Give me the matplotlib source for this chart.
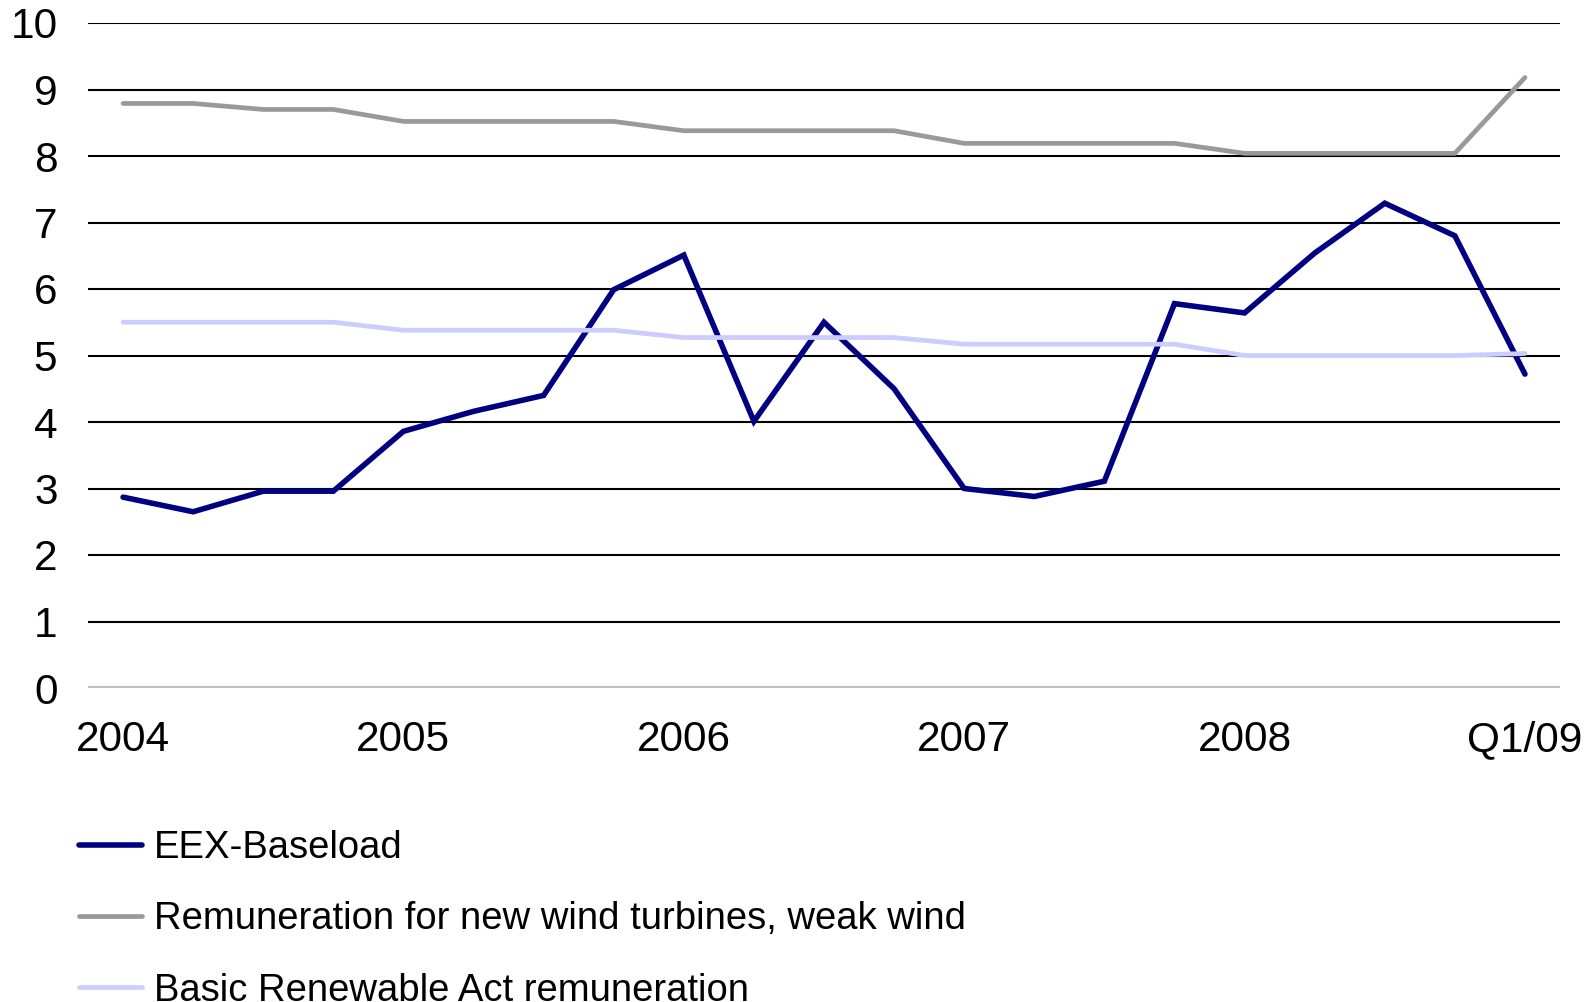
import matplotlib.pyplot as plt
import numpy as np

plt.rcParams['font.family'] = ['Liberation Sans', 'DejaVu Sans']

# quarterly values, Q1/2004 .. Q1/2009 (ct/kWh)
quarters = np.arange(21)
eex_baseload = [2.87, 2.65, 2.96, 2.96, 3.86, 4.16, 4.40, 5.99,
                6.51, 4.01, 5.50, 4.50, 3.00, 2.88, 3.11, 5.78,
                5.64, 6.54, 7.29, 6.80, 4.72]
wind_weak = [8.79, 8.79, 8.70, 8.70, 8.52, 8.52, 8.52, 8.52,
             8.38, 8.38, 8.38, 8.38, 8.19, 8.19, 8.19, 8.19,
             8.04, 8.04, 8.04, 8.04, 9.18]
renewable_basic = [5.50, 5.50, 5.50, 5.50, 5.38, 5.38, 5.38, 5.38,
                   5.27, 5.27, 5.27, 5.27, 5.17, 5.17, 5.17, 5.17,
                   5.00, 5.00, 5.00, 5.00, 5.03]
labels = ['EEX-Baseload', 'Remuneration for new wind turbines, weak wind',
          'Basic Renewable Act remuneration']
tick_pos = [0, 4, 8, 12, 16, 20]
tick_labels = ['2004', '2005', '2006', '2007', '2008', 'Q1/09']

fig = plt.figure(figsize=(15.88, 10.02), dpi=100)
ax = fig.add_axes([88 / 1588, 1 - 688 / 1002, (1560 - 88) / 1588, (688 - 23) / 1002])

# horizontal grid drawn by hand: black lines, light grey base line
for v in range(1, 11):
    ax.axhline(v, color='black', lw=1.5, zorder=1)
ax.axhline(0, color='#c0c0c0', lw=3, zorder=1)

l1, = ax.plot(quarters, eex_baseload, color='#000080', lw=4.0, zorder=3,
              solid_joinstyle='miter', solid_capstyle='round')
l2, = ax.plot(quarters, wind_weak, color='#999999', lw=3.4, zorder=3,
              solid_capstyle='round')
l3, = ax.plot(quarters, renewable_basic, color='#ccccff', lw=3.4, zorder=3,
              solid_capstyle='round')

ax.set_xlim(-0.5, 20.5)
ax.set_ylim(0, 10)
ax.set_yticks(range(0, 11))
ax.set_xticks(tick_pos)
ax.set_xticklabels(tick_labels)
ax.tick_params(axis='both', length=0, labelsize=30.5)
ax.tick_params(axis='x', pad=23)
ax.tick_params(axis='y', pad=22)
for s in ax.spines.values():
    s.set_visible(False)

fig.legend([l1, l2, l3], labels, loc='upper left', bbox_to_anchor=(64 / 1588, 1 - 815 / 1002),
           frameon=False, fontsize=27.5, handlelength=1.65, handletextpad=0.3,
           labelspacing=0.92, borderaxespad=0)

fig.savefig('out.png', dpi=100)
